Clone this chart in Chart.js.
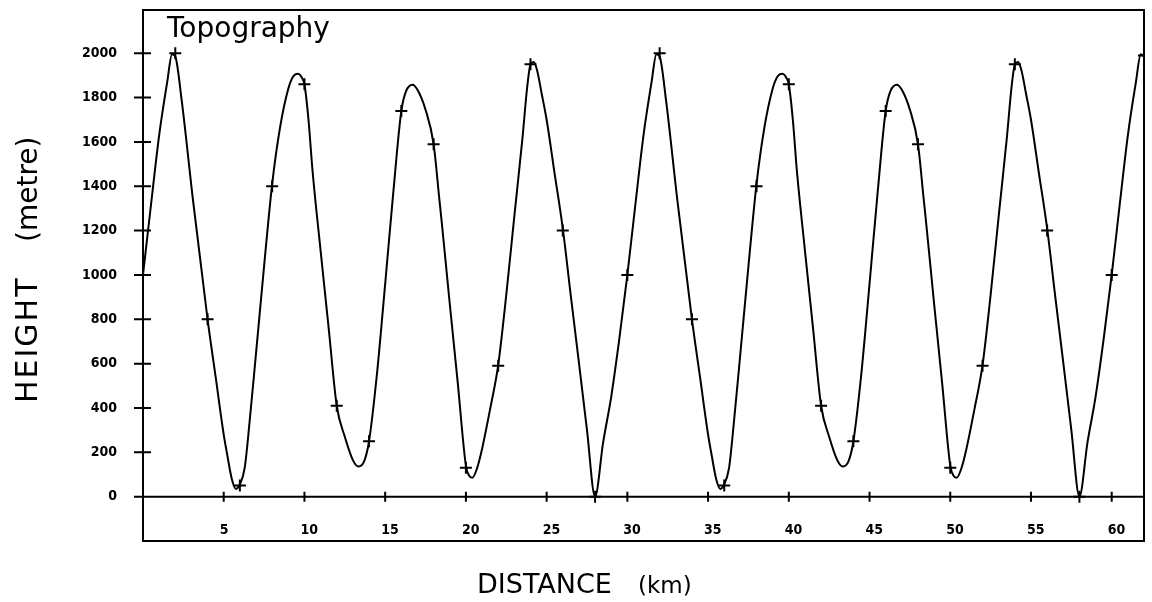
<!DOCTYPE html>
<html>
<head>
<meta charset="utf-8">
<script src="https://cdn.jsdelivr.net/npm/chart.js@4.4.1/dist/chart.umd.min.js"></script>
<style>
  html, body { margin: 0; padding: 0; background: #fff; }
</style>
</head>
<body>
<canvas id="chart" width="1152" height="602"></canvas>
<script>
// Topography profile: smooth surface line, plus the
// sampled heights (the "+" marks) every 2 km.

const LINE_KM = [
  0, 0.5, 1, 1.5, 1.8, 2, 2.4, 3.1, 4, 4.5, 5, 5.2, 5.5, 5.76, 6, 6.3, 6.5, 7, 7.5, 8, 8.5, 9, 9.3, 9.6, 9.9,
  10, 10.25, 10.5, 11, 11.5, 12, 12.5, 13, 13.35, 13.7, 14, 14.5, 15, 15.5, 16, 16.3, 16.7, 17, 17.5,
  18, 18.36, 18.5, 19, 19.5, 20, 20.2, 20.4, 20.7, 21, 21.5, 22, 22.5, 23, 23.5, 23.8, 24, 24.2, 24.4, 24.7,
  25, 25.5, 26, 26.5, 27, 27.5, 28, 28.5, 29, 29.5,
  30, 30.5, 31, 31.5, 31.8, 32, 32.4, 33.1, 34, 34.5, 35, 35.2, 35.5, 35.76, 36, 36.3, 36.5, 37, 37.5,
  38, 38.5, 39, 39.3, 39.6, 39.9, 40, 40.25, 40.5, 41, 41.5, 42, 42.5, 43, 43.35, 43.7, 44, 44.5, 45, 45.5,
  46, 46.3, 46.7, 47, 47.5, 48, 48.36, 48.5, 49, 49.5, 50, 50.2, 50.4, 50.7, 51, 51.5, 52, 52.5, 53, 53.5,
  53.8, 54, 54.2, 54.4, 54.7, 55, 55.5, 56, 56.5, 57, 57.5, 58, 58.5, 59, 59.5,
  60, 60.5, 61, 61.5, 61.8, 62
];
const LINE_M = [
  1000, 1320, 1630, 1870, 1995, 1985, 1785, 1335, 800, 540, 280, 196, 80, 35, 55, 130, 260, 646, 1040, 1410, 1670, 1840, 1895, 1908, 1882,
  1860, 1700, 1470, 1110, 760, 410, 270, 165, 136, 160, 250, 560, 960, 1370, 1740, 1830, 1858, 1835, 1745,
  1590, 1338, 1240, 870, 510, 140, 95, 85, 130, 215, 395, 593, 910, 1265, 1615, 1850, 1950, 1960, 1925, 1815,
  1700, 1455, 1210, 905, 605, 300, 0, 245, 450, 710,
  1000, 1320, 1630, 1870, 1995, 1985, 1785, 1335, 800, 540, 280, 196, 80, 35, 55, 130, 260, 646, 1040,
  1410, 1670, 1840, 1895, 1908, 1882, 1860, 1700, 1470, 1110, 760, 410, 270, 165, 136, 160, 250, 560, 960, 1370,
  1740, 1830, 1858, 1835, 1745, 1590, 1338, 1240, 870, 510, 140, 95, 85, 130, 215, 395, 593, 910, 1265, 1615,
  1850, 1950, 1960, 1925, 1815, 1700, 1455, 1210, 905, 605, 300, 0, 245, 450, 710,
  1000, 1320, 1630, 1870, 1995, 1985
];

// sampled points ("+")
const CROSS_KM = [0, 2, 4, 6, 8, 10, 12, 14, 16, 18, 20, 22, 24, 26, 28, 30,
  32, 34, 36, 38, 40, 42, 44, 46, 48, 50, 52, 54, 56, 58, 60, 62];
const CROSS_M = [1000, 2000, 800, 50, 1400, 1860, 410, 250, 1740, 1590, 130, 590, 1950, 1200, 0, 1000,
  2000, 800, 50, 1400, 1860, 410, 250, 1740, 1590, 130, 590, 1950, 1200, 0, 1000, 1990];

const X_TICKS = [5, 10, 15, 20, 25, 30, 35, 40, 45, 50, 55, 60];
const Y_TICKS = [0, 200, 400, 600, 800, 1000, 1200, 1400, 1600, 1800, 2000];

const TICK_FONT = { family: "'DejaVu Sans Condensed', 'DejaVu Sans', sans-serif", size: 14, weight: 'bold' };
const TEXT_FAMILY = "'DejaVu Sans', sans-serif";

function noPad(s) {
  s.paddingLeft = 0;
  s.paddingRight = 0;
  s.paddingTop = 0;
  s.paddingBottom = 0;
}

// frame, zero line, crossing tick marks and the text labels
const framePlugin = {
  id: 'frame',
  afterDatasetsDraw(chart) {
    const { ctx, chartArea: a, scales: { x, y } } = chart;
    const y0 = y.getPixelForValue(0);
    ctx.save();
    ctx.strokeStyle = '#000';
    ctx.lineWidth = 2;
    ctx.strokeRect(a.left, a.top, a.right - a.left, a.bottom - a.top);
    ctx.beginPath();
    ctx.moveTo(a.left - 9, y0);
    ctx.lineTo(a.right, y0);
    x.ticks.forEach(t => {
      const px = x.getPixelForValue(t.value);
      ctx.moveTo(px, y0 - 5);
      ctx.lineTo(px, y0 + 5);
    });
    y.ticks.forEach(t => {
      const py = y.getPixelForValue(t.value);
      ctx.moveTo(a.left - 9, py);
      ctx.lineTo(a.left + 8, py);
    });
    ctx.stroke();

    ctx.fillStyle = '#000';
    ctx.textBaseline = 'alphabetic';
    ctx.textAlign = 'left';
    ctx.font = `28px ${TEXT_FAMILY}`;
    ctx.fillText('Topography', a.left + 24, a.top + 27);

    ctx.font = `27px ${TEXT_FAMILY}`;
    ctx.fillText('DISTANCE', 477, 593);
    ctx.font = `23px ${TEXT_FAMILY}`;
    ctx.fillText('(km)', 638, 593);

    ctx.save();
    ctx.translate(37, 403);
    ctx.rotate(-Math.PI / 2);
    ctx.font = `30px ${TEXT_FAMILY}`;
    ctx.letterSpacing = '2px';
    ctx.fillText('HEIGHT', 0, 0);
    ctx.restore();

    ctx.save();
    ctx.translate(37, 242);
    ctx.rotate(-Math.PI / 2);
    ctx.font = `28px ${TEXT_FAMILY}`;
    ctx.fillText('(metre)', 0, 0);
    ctx.restore();

    ctx.restore();
  }
};

new Chart(document.getElementById('chart'), {
  type: 'line',
  data: {
    datasets: [
      {
        label: 'surface',
        data: LINE_KM.map((k, i) => ({ x: k, y: LINE_M[i] })),
        borderColor: '#000',
        borderWidth: 2,
        pointRadius: 0,
        cubicInterpolationMode: 'monotone'
      },
      {
        label: 'samples',
        data: CROSS_KM.map((k, i) => ({ x: k, y: CROSS_M[i] })),
        showLine: false,
        pointStyle: 'cross',
        pointRadius: 6,
        pointBorderWidth: 2,
        borderColor: '#000',
        backgroundColor: '#000'
      }
    ]
  },
  options: {
    responsive: false,
    animation: false,
    events: [],
    layout: { padding: { left: 0, right: 6, top: 10, bottom: 61 } },
    plugins: { legend: { display: false }, tooltip: { enabled: false } },
    scales: {
      x: {
        type: 'linear',
        min: 0,
        max: 62,
        position: { y: 0 },
        afterBuildTicks: s => { s.ticks = X_TICKS.map(v => ({ value: v })); },
        afterFit: s => { s.height = 0; noPad(s); },
        grid: { display: false, drawTicks: false },
        border: { display: false },
        ticks: {
          color: '#000',
          font: TICK_FONT,
          padding: 25,
          align: 'start',
          labelOffset: -4,
          maxRotation: 0,
          autoSkip: false,
          callback: v => String(v)
        }
      },
      y: {
        type: 'linear',
        min: -200,
        max: 2195,
        afterBuildTicks: s => { s.ticks = Y_TICKS.map(v => ({ value: v })); },
        afterFit: s => { s.width = 143; noPad(s); },
        grid: { display: false, drawTicks: false },
        border: { display: false },
        ticks: { color: '#000', font: TICK_FONT, padding: 26, callback: v => String(v) }
      }
    }
  },
  plugins: [framePlugin]
});
</script>
</body>
</html>
